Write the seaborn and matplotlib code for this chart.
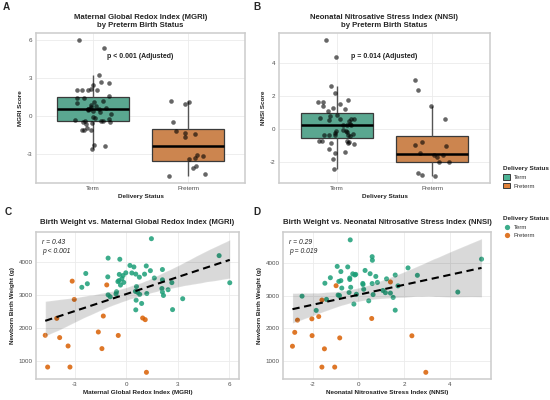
import numpy as np
import pandas as pd
import matplotlib
matplotlib.use("Agg")
import matplotlib.pyplot as plt
import seaborn as sns
from matplotlib.patches import Patch
from matplotlib.lines import Line2D

# ---------------- data ----------------
groups = ["Term", "Preterm"]

term_bw = [4710, 4195, 4120, 4085, 3897, 3881, 3851, 3773, 3738, 3673, 3668, 3653,
           3634, 3633, 3624, 3590, 3550, 3540, 3515, 3496, 3460, 3436, 3406, 3381,
           3375, 3371, 3341, 3301, 3256, 3233, 3196, 3159, 3110, 3098, 3091, 3079,
           3043, 3033, 3018, 3005, 2985, 2946, 2886, 2841, 2742, 2555, 2548]
term_mgri = [1.46, 5.40, -1.06, -0.38, 0.21, 1.16, 0.44, 2.10, 1.40, -0.03, 0.32, -2.36,
             0.55, 1.06, -0.41, -0.19, -1.08, 0.76, 1.63, -0.26, 2.10, -0.43, -0.49, -0.15,
             2.65, 6.02, -2.27, -0.34, 0.59, -2.59, 2.07, 2.43, 0.53, -0.57, 2.10, 0.66,
             1.19, -0.60, 0.78, -1.06, 2.16, -0.94, 3.28, 0.57, 0.89, 2.69, 0.55]
term_nnsi = [-0.36, 0.60, 5.39, 0.61, -0.93, -0.47, 2.17, 0.29, -0.77, 0.51, -0.25, -0.12,
             -0.16, 1.61, 2.58, 0.76, -1.23, -0.38, 1.23, -0.38, -0.77, -0.86, 0.83, -1.47,
             0.19, 0.60, 0.20, 1.73, -0.34, -0.73, 0.23, 1.07, 4.35, -0.41, 1.18, 1.40,
             -0.09, 0.64, -0.89, -0.83, -2.47, 1.52, -1.40, 0.45, -0.20, 1.61, -1.85]

pre_bw = [3420, 3305, 2865, 2360, 2300, 2290, 2250, 1875, 1775, 1770, 1705, 1450,
          1370, 810, 810, 650]
pre_mgri = [-3.15, -1.14, -3.03, -1.34, 0.95, -4.05, 1.10, -1.63, -4.72, -0.47, -3.88,
            -3.39, -1.42, -4.58, -3.28, 1.17]
pre_nnsi = [1.40, -0.98, -1.60, -1.74, 0.58, -2.04, -2.67, -2.79, -2.03, 2.34, -0.82,
            -2.89, -1.49, -1.60, -1.04, 2.95]

titles = ["Maternal Global Redox Index (MGRI)\nby Preterm Birth Status",
          "Neonatal Nitrosative Stress Index (NNSI)\nby Preterm Birth Status",
          "Birth Weight vs. Maternal Global Redox Index (MGRI)",
          "Birth Weight vs. Neonatal Nitrosative Stress Index (NNSI)"]
p_box = ["p < 0.001 (Adjusted)", "p = 0.014 (Adjusted)"]
stats_txt = ["r = 0.43\np < 0.001", "r = 0.29\np = 0.019"]

colors = {"Term": "#1B9E77", "Preterm": "#D95F02"}

df = pd.DataFrame({
    "status": ["Term"] * len(term_bw) + ["Preterm"] * len(pre_bw),
    "mgri": term_mgri + pre_mgri,
    "nnsi": term_nnsi + pre_nnsi,
    "bw": term_bw + pre_bw,
})


def blend(hexc, a):
    c = np.array(matplotlib.colors.to_rgb(hexc))
    return tuple(a * c + (1 - a) * 1.0)


box_pal = {g: blend(colors[g], 0.78) for g in groups}

sns.set_theme(style="white")
plt.rcParams["font.family"] = ["Liberation Sans", "DejaVu Sans"]
plt.rcParams["axes.unicode_minus"] = False

W, H = 550, 400
fig = plt.figure(figsize=(5.5, 4), dpi=100)


def rect(l, r, t, b):
    return [l / W, 1 - b / H, (r - l) / W, (b - t) / H]


axA = fig.add_axes(rect(36, 245, 33, 183))
axB = fig.add_axes(rect(279, 490, 33, 183))
axC = fig.add_axes(rect(36, 239, 232, 379))
axD = fig.add_axes(rect(283, 491, 232, 379))


def style(ax):
    for s in ax.spines.values():
        s.set_visible(True)
        s.set_color("#cccccc")
        s.set_linewidth(1.1)
    ax.grid(True, color="#ebebeb", lw=0.6)
    ax.set_axisbelow(True)
    ax.tick_params(length=0, labelsize=4.5, colors="#4d4d4d", pad=2.5)


lab_kw = dict(fontsize=4.6, fontweight="bold", color="#222222")

np.random.seed(7)
for ax, col, ttl, ptxt, ylab, yt in [
        (axA, "mgri", titles[0], p_box[0], "MGRI Score", [-3, 0, 3, 6]),
        (axB, "nnsi", titles[1], p_box[1], "NNSI Score", [-2, 0, 2, 4])]:
    sns.boxplot(data=df, x="status", y=col, hue="status", order=groups, hue_order=groups,
                palette=box_pal, width=0.75, showfliers=False, showcaps=False,
                linecolor="#3a3a3a", linewidth=0.9,
                medianprops=dict(color="black", linewidth=1.8),
                whiskerprops=dict(color="#555555", linewidth=1.0),
                legend=False, ax=ax)
    sns.stripplot(data=df, x="status", y=col, order=groups, color="black", alpha=0.6,
                  size=3.3, jitter=0.2, linewidth=0, ax=ax)
    style(ax)
    ax.set_xlim(-0.6, 1.6)
    ax.set_yticks(yt)
    ax.set_title(ttl, fontsize=5.6, fontweight="bold", pad=4.5, linespacing=1.1)
    ax.set_xlabel("Delivery Status", labelpad=1.5, **lab_kw)
    ax.set_ylabel(ylab, labelpad=2.5, **lab_kw)
    ax.text(0.5, 0.84, ptxt, transform=ax.transAxes, ha="center", va="center",
            fontsize=5.0, fontweight="bold", color="#222222")

for ax, col, ttl, st, xlab, xt in [
        (axC, "mgri", titles[2], stats_txt[0], "Maternal Global Redox Index (MGRI)", [-3, 0, 3, 6]),
        (axD, "nnsi", titles[3], stats_txt[1], "Neonatal Nitrosative Stress Index (NNSI)", [-2, 0, 2, 4])]:
    sns.scatterplot(data=df, x=col, y="bw", hue="status", hue_order=groups, palette=colors,
                    s=13, alpha=0.85, edgecolor="none", legend=False, ax=ax)
    sns.regplot(data=df, x=col, y="bw", scatter=False, color="#6e6e6e", seed=1,
                line_kws=dict(color="black", ls=(0, (3.5, 2.2)), lw=1.5, zorder=5), ax=ax)
    style(ax)
    ax.set_xticks(xt)
    ax.set_yticks([1000, 2000, 3000, 4000])
    ax.set_title(ttl, fontsize=5.6, fontweight="bold", pad=6)
    ax.set_xlabel(xlab, labelpad=1.5, **lab_kw)
    ax.set_ylabel("Newborn Birth Weight (g)", labelpad=2.5, **lab_kw)
    ax.text(0.03, 0.955, st, transform=ax.transAxes, ha="left", va="top",
            fontsize=4.9, style="italic", color="#222222", linespacing=1.55)

for lbl, x, y in [("A", 3, 7), ("B", 253, 7), ("C", 5, 212), ("D", 253, 212)]:
    fig.text(x / W, 1 - y / H, lbl, fontsize=7.2, fontweight="bold", va="center", ha="left")

h1 = [Patch(facecolor=box_pal[g], edgecolor="#3a3a3a", linewidth=0.7, label=g) for g in groups]
leg1 = fig.legend(handles=h1, title="Delivery Status", loc="upper left",
                  bbox_to_anchor=(498 / W, 1 - 161 / H), frameon=False, fontsize=4.3,
                  title_fontproperties={"weight": "bold", "size": 4.6},
                  handlelength=1.1, handleheight=1.1, labelspacing=0.45, alignment="left",
                  handletextpad=0.6)
h2 = [Line2D([0], [0], marker="o", ls="", markersize=3.8, markerfacecolor=colors[g],
             markeredgecolor="none", alpha=0.85, label=g) for g in groups]
leg2 = fig.legend(handles=h2, title="Delivery Status", loc="upper left",
                  bbox_to_anchor=(498 / W, 1 - 211 / H), frameon=False, fontsize=4.3,
                  title_fontproperties={"weight": "bold", "size": 4.6},
                  handlelength=1.1, labelspacing=0.55, alignment="left", handletextpad=0.6)
for lg in (leg1, leg2):
    for t in lg.get_texts():
        t.set_color("#333333")

fig.savefig("out.png", dpi=100)
